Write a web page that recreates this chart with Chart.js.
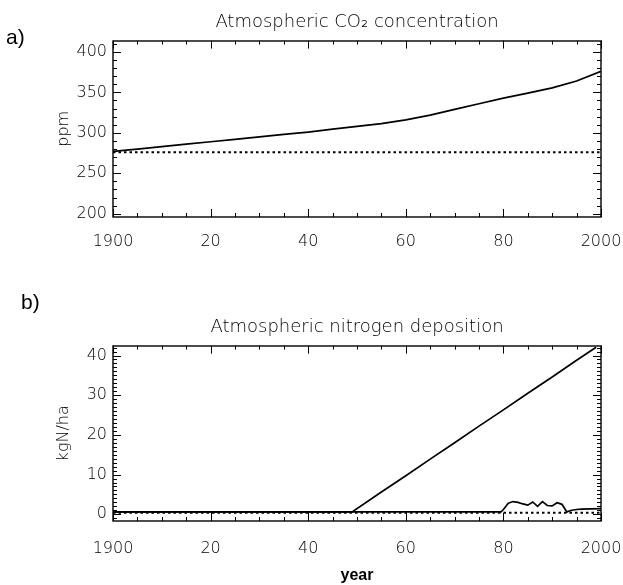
<!DOCTYPE html>
<html>
<head>
<meta charset="utf-8">
<script src="https://cdn.jsdelivr.net/npm/chart.js@4.4.0/dist/chart.umd.min.js"></script>
<style>
  body { margin: 0; background: #fff; }
  #wrap { position: relative; width: 623px; height: 585px; }
  canvas { position: absolute; left: 0; }
  #chartA { top: 0; }
  #chartB { top: 280px; }
  .panel { position: absolute; font: 21px 'Liberation Sans', Arial, sans-serif; color: #000; }
</style>
</head>
<body>
<div id="wrap">
  <canvas id="chartA" width="623" height="280"></canvas>
  <canvas id="chartB" width="623" height="305"></canvas>
  <div class="panel" style="left:6px;top:25px">a)</div>
  <div class="panel" style="left:21px;top:290px">b)</div>
</div>
<script>
// a) CO2 (ppm)
const co2Years = [1900, 1905, 1910, 1915, 1920, 1925, 1930, 1935, 1940, 1945, 1950,
                  1955, 1960, 1965, 1970, 1975, 1980, 1985, 1990, 1995, 2000];
const co2Ppm = [277, 280, 283, 286, 289, 292, 295, 298, 301, 304.5, 308,
                311.5, 316, 322, 329, 336, 343, 349, 355.5, 364, 376];
const co2ConstYears = [1900, 2000];
const co2ConstPpm = [276, 276];

// b) N deposition (kgN/ha)
const ndepRiseYears = [1900, 1949, 1955, 1960, 1965, 1970, 1975, 1980, 1985, 1990, 1995, 1999];
const ndepRiseValues = [0.6, 0.6, 5.6, 9.7, 13.9, 18.0, 22.2, 26.3, 30.5, 34.6, 38.8, 42.1];
const ndepObsYears = [1900, 1979.5, 1980, 1981, 1982, 1983, 1984, 1985, 1986, 1987, 1988,
                      1989, 1990, 1991, 1992, 1993, 1994, 1995, 1996, 2000];
const ndepObsValues = [0.6, 0.6, 1.2, 2.8, 3.2, 3.0, 2.6, 2.3, 3.1, 2.0, 3.2,
                       2.2, 2.1, 2.9, 2.5, 0.6, 1.0, 1.2, 1.3, 1.4];
const ndepConstYears = [1900, 2000];
const ndepConstValues = [0.4, 0.4];

const xTickValues = [1900, 1920, 1940, 1960, 1980, 2000];
const xTickLabels = ['1900', '20', '40', '60', '80', '2000'];
const co2TickValues = [200, 250, 300, 350, 400];
const ndepTickValues = [0, 10, 20, 30, 40];

Chart.defaults.font.family = "'DejaVu Sans', sans-serif";
Chart.defaults.color = '#000';

const pts = (xs, ys) => xs.map((x, i) => ({ x: x, y: ys[i] }));

// box + inward ticks on all four sides, like the original plot
const frameTicks = {
  id: 'frameTicks',
  afterDatasetsDraw(chart, args, opts) {
    const { ctx, chartArea: a, scales } = chart;
    ctx.save();
    ctx.strokeStyle = '#000';
    ctx.lineWidth = 1;
    ctx.beginPath();
    const tick = (scale, minor, major, horizontal) => {
      const first = Math.ceil(scale.min / minor - 1e-9);
      const last = Math.floor(scale.max / minor + 1e-9);
      for (let k = first; k <= last; k++) {
        const v = k * minor;
        const p = Math.round(scale.getPixelForValue(v)) + 0.5;
        const isMajor = Math.abs(v / major - Math.round(v / major)) < 1e-6;
        const len = isMajor ? 8 : 4;
        if (horizontal) {
          ctx.moveTo(p, a.bottom); ctx.lineTo(p, a.bottom - len);
          ctx.moveTo(p, a.top); ctx.lineTo(p, a.top + len);
        } else {
          ctx.moveTo(a.left, p); ctx.lineTo(a.left + len, p);
          ctx.moveTo(a.right, p); ctx.lineTo(a.right - len, p);
        }
      }
    };
    tick(scales.x, opts.xMinor, opts.xMajor, true);
    tick(scales.y, opts.yMinor, opts.yMajor, false);
    ctx.stroke();
    ctx.lineWidth = 1.4;
    ctx.strokeRect(Math.round(a.left), Math.round(a.top),
                   Math.round(a.right - a.left), Math.round(a.bottom - a.top));
    ctx.restore();
  }
};

function solid(data) {
  return { data: data, borderColor: '#000', borderWidth: 1.7, pointRadius: 0, tension: 0, fill: false };
}
function dotted(data) {
  return { data: data, borderColor: '#000', borderWidth: 2, borderDash: [2.5, 3], pointRadius: 0, tension: 0, fill: false };
}

function makeChart(id, o) {
  return new Chart(document.getElementById(id), {
    type: 'line',
    data: { datasets: o.datasets },
    plugins: [frameTicks],
    options: {
      responsive: false,
      animation: false,
      layout: { padding: { left: 0, right: 22, top: 0, bottom: 0 } },
      plugins: {
        legend: { display: false },
        tooltip: { enabled: false },
        title: {
          display: true, text: o.title, fullSize: false,
          font: { size: 18, weight: '300' },
          padding: { top: o.titleTop, bottom: o.titleBottom }
        },
        frameTicks: { xMinor: 5, xMajor: 20, yMinor: o.yMinor, yMajor: o.yMajor }
      },
      scales: {
        x: {
          type: 'linear', min: 1900, max: 2000,
          afterBuildTicks: s => { s.ticks = xTickValues.map(v => ({ value: v })); },
          afterFit: s => { s.height = o.xHeight; s.paddingLeft = 0; s.paddingRight = 0; },
          grid: { display: false, drawTicks: false },
          border: { display: false },
          ticks: {
            padding: o.xPad, maxRotation: 0, autoSkip: false,
            font: { size: 16, weight: '300' },
            callback: (v, i) => xTickLabels[i]
          },
          title: o.xTitle ? {
            display: true, text: o.xTitle,
            font: { family: "'Liberation Sans', Arial, sans-serif", size: 16, weight: 'bold' },
            padding: { top: 0, bottom: 0 }
          } : { display: false }
        },
        y: {
          type: 'linear', min: o.yMin, max: o.yMax,
          afterBuildTicks: s => { s.ticks = o.yTicks.map(v => ({ value: v })); },
          afterFit: s => { s.width = 113; },
          grid: { display: false, drawTicks: false },
          border: { display: false },
          ticks: { padding: 6, font: { size: 16, weight: '300' } },
          title: {
            display: true, text: o.yTitle,
            font: { size: 16, weight: '300' },
            padding: { top: 54, bottom: 0 }
          }
        }
      }
    }
  });
}

makeChart('chartA', {
  title: 'Atmospheric CO\u2082 concentration',
  titleTop: 12, titleBottom: 7,
  yTitle: 'ppm', yMin: 196, yMax: 414, yTicks: co2TickValues,
  yMinor: 10, yMajor: 50, xHeight: 63, xPad: 15,
  datasets: [dotted(pts(co2ConstYears, co2ConstPpm)), solid(pts(co2Years, co2Ppm))]
});

makeChart('chartB', {
  title: 'Atmospheric nitrogen deposition',
  titleTop: 37, titleBottom: 7,
  yTitle: 'kgN/ha', yMin: -1.7, yMax: 42.5, yTicks: ndepTickValues,
  yMinor: 1, yMajor: 10, xHeight: 64, xPad: 18, xTitle: 'year',
  datasets: [
    dotted(pts(ndepConstYears, ndepConstValues)),
    solid(pts(ndepObsYears, ndepObsValues)),
    solid(pts(ndepRiseYears, ndepRiseValues))
  ]
});
</script>
</body>
</html>
